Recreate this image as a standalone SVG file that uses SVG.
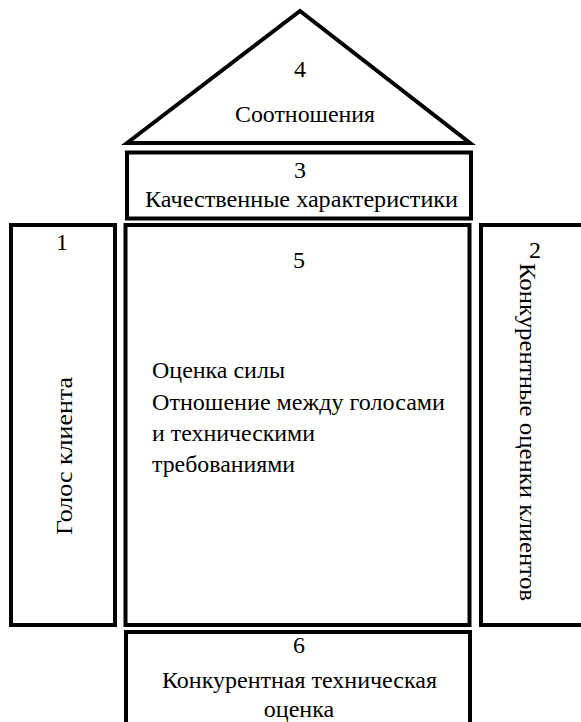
<svg xmlns="http://www.w3.org/2000/svg" width="581" height="722" viewBox="0 0 581 722" font-family="Liberation Serif, serif" font-size="24">
<style>
.s{fill:#fff;stroke:#000;stroke-width:4}
.m{text-anchor:middle}
</style>
<rect width="581" height="722" fill="#fff"/>
<g id="n4">
<polygon class="s" points="127,143 300,11 470,143"/>
<text class="m" x="300" y="77">4</text>
<text class="m" x="305" y="122" textLength="140" lengthAdjust="spacingAndGlyphs">Соотношения</text>
</g>
<g id="n3">
<rect class="s" x="127" y="152.5" width="344" height="66"/>
<text class="m" x="300" y="178">3</text>
<text class="m" x="301.5" y="207" textLength="313" lengthAdjust="spacingAndGlyphs">Качественные характеристики</text>
</g>
<g id="n1">
<rect class="s" x="11" y="225" width="104" height="400"/>
<text class="m" x="62" y="250">1</text>
<text class="m" transform="translate(72,456) rotate(-90)" x="0" y="0" textLength="158" lengthAdjust="spacingAndGlyphs">Голос клиента</text>
</g>
<g id="n5">
<rect class="s" x="125.5" y="225" width="344" height="400"/>
<text class="m" x="299" y="268">5</text>
<text x="152" y="378" textLength="133" lengthAdjust="spacingAndGlyphs">Оценка силы</text>
<text x="152" y="410" textLength="293" lengthAdjust="spacingAndGlyphs">Отношение между голосами</text>
<text x="152" y="441" textLength="163" lengthAdjust="spacingAndGlyphs">и техническими</text>
<text x="152" y="472" textLength="143" lengthAdjust="spacingAndGlyphs">требованиями</text>
</g>
<g id="n2">
<rect class="s" x="481" y="225" width="110" height="400"/>
<text class="m" x="535" y="258">2</text>
<text transform="translate(520,263) rotate(90)" x="0" y="0" textLength="338" lengthAdjust="spacingAndGlyphs">Конкурентные оценки клиентов</text>
</g>
<g id="n6">
<rect class="s" x="126" y="632" width="344" height="100"/>
<text class="m" x="299" y="653">6</text>
<text class="m" x="299.5" y="688" textLength="275" lengthAdjust="spacingAndGlyphs">Конкурентная техническая</text>
<text class="m" x="299" y="717">оценка</text>
</g>
<g id="connectors"/>
</svg>
